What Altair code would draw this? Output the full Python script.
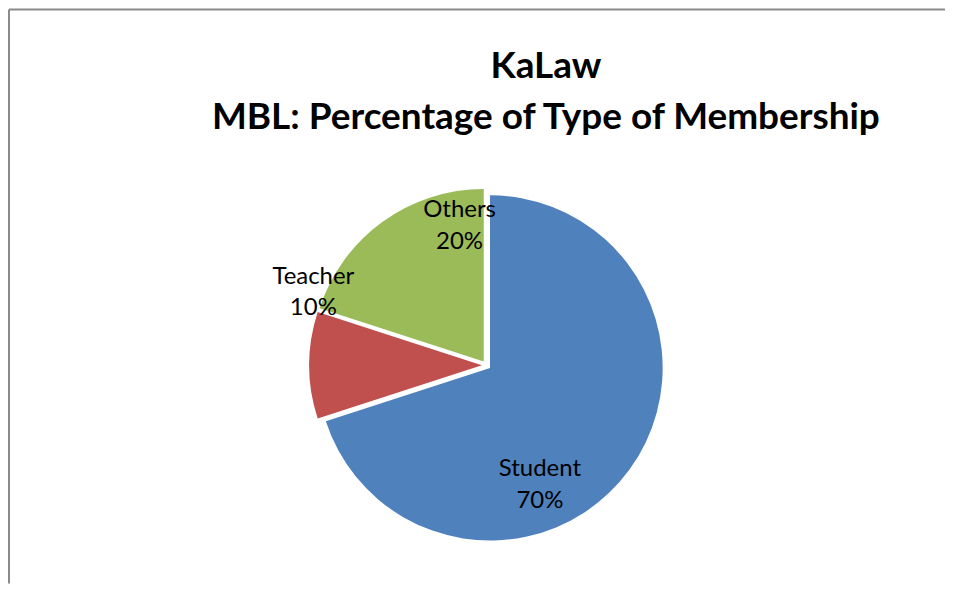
import math
import altair as alt
import pandas as pd

# ---- data ----
categories = ["Student", "Teacher", "Others"]
percent = [70, 10, 20]
colors = ["#4F81BD", "#C0504D", "#9BBB59"]
title_lines = ["KaLaw", "MBL: Percentage of Type of Membership"]

df = pd.DataFrame({"category": categories, "percent": percent, "order": [0, 1, 2]})

W, H = 938, 575
CX, CY = 478.4, 356.4   # pie centre in view coords
R = 173
FONT = "Lato"

base = (
    alt.Chart(df)
    .transform_window(end="sum(percent)", sort=[alt.SortField("order")], frame=[None, 0])
    .transform_calculate(start="datum.end - datum.percent", mid="datum.end - datum.percent/2",
                         label="[datum.category, datum.percent + '%']")
)

theta_scale = alt.Scale(domain=[0, 100], range=[0, 2 * math.pi])
color_scale = alt.Scale(domain=categories, range=colors)

explode = 4.5
layers = []
for cat in categories:
    i = categories.index(cat)
    start = sum(percent[:i])
    mid = (start + percent[i] / 2) / 100 * 2 * math.pi
    ox, oy = explode * math.sin(mid), -explode * math.cos(mid)
    layers.append(
        base.transform_filter(alt.datum.category == cat)
        .mark_arc(outerRadius=R, xOffset=ox, yOffset=oy)
        .encode(
            theta=alt.Theta("start:Q", scale=theta_scale),
            theta2="end:Q",
            color=alt.Color("category:N", scale=color_scale, legend=None),
            x=alt.value(CX),
            y=alt.value(CY),
        )
    )

label_offsets = {"Student": (-27.3, 44.8), "Teacher": (-73.4, -88.9), "Others": (31.9, -74.5)}
for cat in categories:
    dx, dy = label_offsets[cat]
    layers.append(
        base.transform_filter(alt.datum.category == cat)
        .mark_text(radius=100, dx=dx, dy=dy, font=FONT, fontSize=24, lineHeight=32,
                   align="center", baseline="middle", color="black")
        .encode(
            theta=alt.Theta("mid:Q", scale=theta_scale),
            text=alt.Text("label:N"),
            x=alt.value(CX),
            y=alt.value(CY),
        )
    )

title = (
    alt.Chart(alt.Data(values=[{}]))
    .mark_text(font=FONT, fontSize=37, fontWeight="bold", lineHeight=51,
               align="center", baseline="alphabetic", color="black")
    .encode(x=alt.value(538), y=alt.value(69), text=alt.value(title_lines))
)

border_v = alt.Chart(alt.Data(values=[{}])).mark_rule(color="#8a8a8a", strokeWidth=2).encode(
    x=alt.value(0), y=alt.value(0), y2=alt.value(H))
border_h = alt.Chart(alt.Data(values=[{}])).mark_rule(color="#8a8a8a", strokeWidth=2).encode(
    y=alt.value(0), x=alt.value(0), x2=alt.value(W))

chart = (
    alt.layer(*layers, title, border_v, border_h)
    .properties(width=W, height=H, padding=0)
    .configure_view(stroke=None)
)

chart.save("out.html", embed_options={"renderer": "svg", "actions": False})
